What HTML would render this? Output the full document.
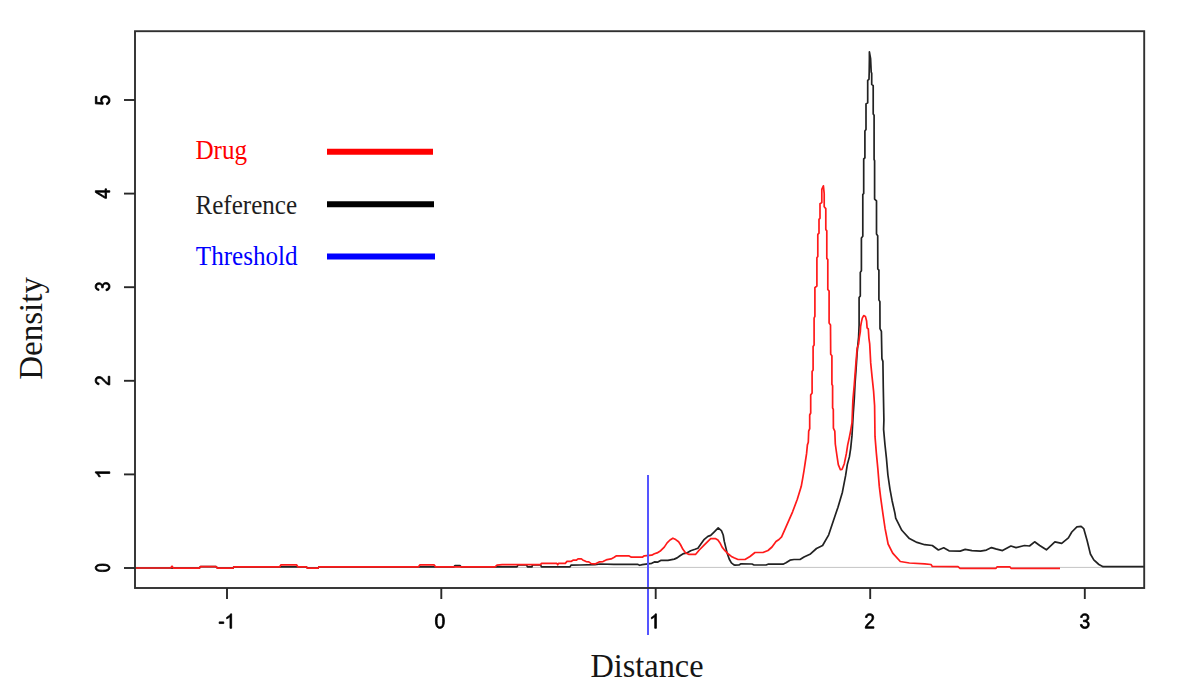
<!DOCTYPE html>
<html><head><meta charset="utf-8"><style>
html,body{margin:0;padding:0;background:#fff;}
svg{display:block;}
</style></head><body>
<svg width="1182" height="700" viewBox="0 0 1182 700">
<rect width="1182" height="700" fill="#fff"/>
<defs><clipPath id="c"><rect x="135" y="31" width="1009" height="557"/></clipPath></defs>
<line x1="135" y1="567.4" x2="1144" y2="567.4" stroke="#c4c4c4" stroke-width="1"/>
<g clip-path="url(#c)" fill="none" stroke-linejoin="round" stroke-width="1.7">
<path d="M135 568 L170.5 568 L173.5 568.2 L199.3 568.2 L200.5 566.6 L216 566.6 L217.5 568.2 L233 568.2 L233.8 566.9 L306.5 566.9 L307.5 568.2 L318 568.2 L319 566.8 L454 566.8 L455 565.6 L460 565.6 L461 566.8 L517 566.8 L518 564.8 L526.5 564.8 L527.5 566.9 L531.9 566.9 L532.5 564.8 L540.5 564.8 L541.5 566.9 L570 566.9 L571 565.1 L580 565 L594.9 564.6 L600.3 564 L613.8 564.3 L637.5 564.3 L639.6 565.3 L642.3 564.6 L651.7 563.3 L654.4 561.9 L657.9 562.1 L660.7 560.4 L667.9 560.4 L674.3 559.1 L677.1 557.9 L680 555.7 L683.6 553.6 L686.4 553.2 L690.7 550.7 L695 549.3 L697.9 548.2 L700.7 544.3 L704.3 539.3 L707.9 536.4 L710.7 535.4 L714.3 531.8 L718.2 527.9 L721.4 530.7 L723.2 535 L724.3 541.4 L725.7 547.1 L727.1 552.9 L729.3 559.3 L731.4 562.9 L733.6 564.6 L735 565.2 L739 565 L741 563.8 L752 564 L754 565 L766 565 L768 564.2 L783 564.2 L786 562.8 L790 560.2 L794 559.5 L800 559.5 L804 557 L810.5 553.9 L816.5 548.5 L822.6 545.5 L828.7 534.8 L833.3 521.1 L837.9 507.4 L842.4 492.2 L845.6 475.7 L847.3 464.6 L849.4 456.9 L850.7 448.3 L852 435.4 L853.3 412.9 L854.3 398.6 L855 384.3 L856.1 368.6 L857.1 352.9 L858.6 337.1 L859.1 325 L859.1 297.6 L860.3 296 L860.3 272.4 L861.4 270.7 L861.4 238 L862.8 236.3 L862.8 194.6 L863.7 193.4 L863.7 159 L864.9 157.9 L864.9 131 L866 129.5 L866 103.9 L867.7 102.7 L867.7 80.4 L869 79.3 L869.2 72 L869.4 58.7 L869.4 51.9 L870.6 58.7 L871.2 72 L871.7 73.4 L871.7 84.4 L873.2 85.6 L873.2 114.1 L874.1 115.3 L874.1 159.6 L874.6 160.7 L874.6 199.1 L876.5 200.9 L876.5 234 L877.7 235.7 L877.8 269 L878.9 270.1 L878.9 299.9 L879.9 301.6 L880 328.6 L881.4 331.4 L881.9 358.6 L882.9 361.4 L883.3 388.6 L883.9 420 L883.6 429.3 L885 445 L886.4 457.9 L887.9 475 L890 489.3 L892.1 500.7 L895 513.6 L895.7 518.1 L901.8 530.3 L909.4 538.6 L917 542.4 L924.7 544.7 L932.3 545.5 L938.4 550 L943.7 547.8 L949 550.8 L960.2 551.1 L965.2 549.4 L972 550.6 L980.5 551.1 L986.4 550.1 L991.5 547.6 L995.7 548.9 L1002.5 550.6 L1010.9 546 L1016 547.6 L1024.5 545.5 L1029.5 546 L1034.6 541.8 L1039.7 545.5 L1046.4 549.8 L1054.9 541.8 L1061.7 543.3 L1068.4 537.9 L1071.8 532 L1076.9 526.9 L1081.1 526.4 L1083.7 528.6 L1087.1 540.5 L1090.4 554 L1093.8 559.9 L1098.9 564.5 L1103.1 566.7 L1145 566.7" stroke="#222"/>
<path d="M135 568 L170.5 568 L172 566.2 L173.5 568.2 L199.3 568.2 L200.5 566.6 L216 566.6 L217.5 568.2 L233 568.2 L233.8 566.9 L279.5 566.9 L281 564.8 L296.5 564.8 L298 566.9 L306.5 566.9 L307.5 568.2 L318 568.2 L319 566.8 L418.5 566.8 L420 564.8 L434 564.8 L435.5 566.8 L495 566.8 L497 565.2 L502.3 564.6 L540.5 564.6 L541.5 563.4 L556.8 563.4 L557.7 564.8 L558.5 563.4 L565.3 563.4 L567 561.4 L571 561.4 L573 560.2 L576.3 560.2 L578 558.9 L581.4 558.9 L582.7 559.9 L586.1 561.6 L588.8 561.9 L591.2 563.6 L595.6 563.8 L599.6 561.8 L603 561.6 L607.1 559.6 L611.1 558.9 L613.8 557.5 L616.5 555.8 L628.7 555.8 L631.4 557.2 L642.3 557.2 L644.3 555.8 L651.7 555.2 L654.4 553.8 L657.1 552.9 L660.7 550.7 L664.3 547.1 L667.1 542.9 L670 540 L672.9 538.2 L675.7 539.6 L678.6 541.8 L680.7 545 L682.9 549.3 L685.7 552.9 L688.6 554.3 L695.7 554.3 L699.3 550 L703.6 545.7 L707.9 541.4 L710.7 538.7 L715.7 538.7 L717.9 540 L720 542.9 L722.1 547.1 L725 550.7 L728.6 554.3 L731.4 556.4 L734 557.8 L738 559.5 L745 559.5 L750 556.5 L755 552.5 L763 552.5 L768 550.5 L772 547 L776 541.5 L779 539.5 L781.6 536.9 L787.1 524.3 L792.6 511.8 L797.3 499.2 L801.2 486.6 L802.7 478.3 L804 470.6 L805.3 462 L806.6 453.4 L807.4 444.9 L808.3 442.3 L808.7 431.1 L809.7 428.6 L809.7 415 L810.7 413 L810.7 395 L812.1 393 L812.1 371.4 L813.1 370 L813.1 346.4 L814.1 345 L814.1 318 L814.9 316.3 L814.9 287.7 L816.9 286 L816.9 257.8 L817.8 256.6 L817.8 234.4 L819 233.2 L819 219.4 L820 218.2 L820 203.8 L821.8 202.6 L821.8 189.4 L823.4 185.8 L824.2 193.6 L824.2 206.8 L825.8 208.6 L825.8 229.6 L826.8 230.8 L826.8 258.4 L827.8 259.6 L827.8 289.4 L829.1 291.1 L829.1 323.1 L830.5 324.9 L830.7 354.3 L831.9 355.7 L831.9 384.3 L832.6 385.7 L832.6 407.9 L833.3 409.3 L833.4 428.1 L834.8 431.1 L835.3 444 L837 456 L838.3 464.6 L840.4 469.7 L842.1 469.3 L844.3 463.7 L846.4 453.4 L847.7 444.9 L849.4 437.1 L850.7 430.3 L852 422.6 L852.9 400 L854.3 384.3 L855.7 365.7 L857.1 348.6 L858.6 343.9 L859.4 337 L860.3 331.9 L860.6 326.7 L861.4 322.1 L862.3 318.1 L863.7 315.6 L865.4 316.4 L866.6 321 L867.1 327.9 L868.3 329 L868.9 338.1 L869.7 343.9 L870.7 362.9 L872.1 377.1 L873.6 391.4 L874.6 405.7 L875 436.4 L876.4 453.6 L877.9 469.3 L879.3 486.4 L880.7 497.9 L882.9 513.6 L885.1 528.7 L888.1 544 L892.7 553.1 L900.3 561.5 L909.4 563 L924.7 563.8 L931 564.5 L932.3 566.5 L958 566.7 L960 568.4 L996 568.4 L997 566.9 L1010 566.9 L1011 568.4 L1060 568.4" stroke="#ff1a1a"/>
</g>
<line x1="648" y1="475" x2="648" y2="635" stroke="#5555ff" stroke-width="2"/>
<rect x="135" y="31.2" width="1009.2" height="556.8" fill="none" stroke="#303030" stroke-width="1.9"/>
<g stroke="#282828" stroke-width="1.9"><line x1="227" y1="588" x2="227" y2="599" /><line x1="441.3" y1="588" x2="441.3" y2="599" /><line x1="655.7" y1="588" x2="655.7" y2="599" /><line x1="870.2" y1="588" x2="870.2" y2="599" /><line x1="1084.8" y1="588" x2="1084.8" y2="599" /><line x1="124" y1="568" x2="135" y2="568" /><line x1="124" y1="474.4" x2="135" y2="474.4" /><line x1="124" y1="380.8" x2="135" y2="380.8" /><line x1="124" y1="287.2" x2="135" y2="287.2" /><line x1="124" y1="193.6" x2="135" y2="193.6" /><line x1="124" y1="100" x2="135" y2="100" /></g>
<g fill="#000" stroke="#000" stroke-width="0.8"><g transform="translate(225.4 628.3) scale(0.009229 -0.010254) translate(-768.0 0)"><path transform="translate(0 0)" d="M91 464V624H591V464Z" vector-effect="non-scaling-stroke"/><path transform="translate(682 0)" d="M763 0V1409H647Q600 1320 487 1230Q374 1140 223 1075V920Q307 950 412 1010Q518 1070 583 1130V0Z" vector-effect="non-scaling-stroke"/></g><g transform="translate(439.9 628.3) scale(0.009229 -0.010254) translate(-569.5 0)"><path transform="translate(0 0)" d="M1059 705Q1059 352 934.5 166.0Q810 -20 567 -20Q324 -20 202.0 165.0Q80 350 80 705Q80 1068 198.5 1249.0Q317 1430 573 1430Q822 1430 940.5 1247.0Q1059 1064 1059 705ZM876 705Q876 1010 805.5 1147.0Q735 1284 573 1284Q407 1284 334.5 1149.0Q262 1014 262 705Q262 405 335.5 266.0Q409 127 569 127Q728 127 802.0 269.0Q876 411 876 705Z" vector-effect="non-scaling-stroke"/></g><g transform="translate(653.9 628.3) scale(0.009229 -0.010254) translate(-493.0 0)"><path transform="translate(0 0)" d="M763 0V1409H647Q600 1320 487 1230Q374 1140 223 1075V920Q307 950 412 1010Q518 1070 583 1130V0Z" vector-effect="non-scaling-stroke"/></g><g transform="translate(869.6 628.3) scale(0.009229 -0.010254) translate(-569.5 0)"><path transform="translate(0 0)" d="M103 0V127Q154 244 227.5 333.5Q301 423 382.0 495.5Q463 568 542.5 630.0Q622 692 686.0 754.0Q750 816 789.5 884.0Q829 952 829 1038Q829 1154 761.0 1218.0Q693 1282 572 1282Q457 1282 382.5 1219.5Q308 1157 295 1044L111 1061Q131 1230 254.5 1330.0Q378 1430 572 1430Q785 1430 899.5 1329.5Q1014 1229 1014 1044Q1014 962 976.5 881.0Q939 800 865.0 719.0Q791 638 582 468Q467 374 399.0 298.5Q331 223 301 153H1036V0Z" vector-effect="non-scaling-stroke"/></g><g transform="translate(1084.8 628.3) scale(0.009229 -0.010254) translate(-563.5 0)"><path transform="translate(0 0)" d="M1049 389Q1049 194 925.0 87.0Q801 -20 571 -20Q357 -20 229.5 76.5Q102 173 78 362L264 379Q300 129 571 129Q707 129 784.5 196.0Q862 263 862 395Q862 510 773.5 574.5Q685 639 518 639H416V795H514Q662 795 743.5 859.5Q825 924 825 1038Q825 1151 758.5 1216.5Q692 1282 561 1282Q442 1282 368.5 1221.0Q295 1160 283 1049L102 1063Q122 1236 245.5 1333.0Q369 1430 563 1430Q775 1430 892.5 1331.5Q1010 1233 1010 1057Q1010 922 934.5 837.5Q859 753 715 723V719Q873 702 961.0 613.0Q1049 524 1049 389Z" vector-effect="non-scaling-stroke"/></g><g transform="translate(109.8 567.8) rotate(-90) scale(0.007793 -0.010254) translate(-569.5 0)"><path transform="translate(0 0)" d="M1059 705Q1059 352 934.5 166.0Q810 -20 567 -20Q324 -20 202.0 165.0Q80 350 80 705Q80 1068 198.5 1249.0Q317 1430 573 1430Q822 1430 940.5 1247.0Q1059 1064 1059 705ZM876 705Q876 1010 805.5 1147.0Q735 1284 573 1284Q407 1284 334.5 1149.0Q262 1014 262 705Q262 405 335.5 266.0Q409 127 569 127Q728 127 802.0 269.0Q876 411 876 705Z" vector-effect="non-scaling-stroke"/></g><g transform="translate(109.8 474.3) rotate(-90) scale(0.009229 -0.010254) translate(-493.0 0)"><path transform="translate(0 0)" d="M763 0V1409H647Q600 1320 487 1230Q374 1140 223 1075V920Q307 950 412 1010Q518 1070 583 1130V0Z" vector-effect="non-scaling-stroke"/></g><g transform="translate(109.8 380.6) rotate(-90) scale(0.009229 -0.010254) translate(-569.5 0)"><path transform="translate(0 0)" d="M103 0V127Q154 244 227.5 333.5Q301 423 382.0 495.5Q463 568 542.5 630.0Q622 692 686.0 754.0Q750 816 789.5 884.0Q829 952 829 1038Q829 1154 761.0 1218.0Q693 1282 572 1282Q457 1282 382.5 1219.5Q308 1157 295 1044L111 1061Q131 1230 254.5 1330.0Q378 1430 572 1430Q785 1430 899.5 1329.5Q1014 1229 1014 1044Q1014 962 976.5 881.0Q939 800 865.0 719.0Q791 638 582 468Q467 374 399.0 298.5Q331 223 301 153H1036V0Z" vector-effect="non-scaling-stroke"/></g><g transform="translate(109.8 286.6) rotate(-90) scale(0.008613 -0.010254) translate(-563.5 0)"><path transform="translate(0 0)" d="M1049 389Q1049 194 925.0 87.0Q801 -20 571 -20Q357 -20 229.5 76.5Q102 173 78 362L264 379Q300 129 571 129Q707 129 784.5 196.0Q862 263 862 395Q862 510 773.5 574.5Q685 639 518 639H416V795H514Q662 795 743.5 859.5Q825 924 825 1038Q825 1151 758.5 1216.5Q692 1282 561 1282Q442 1282 368.5 1221.0Q295 1160 283 1049L102 1063Q122 1236 245.5 1333.0Q369 1430 563 1430Q775 1430 892.5 1331.5Q1010 1233 1010 1057Q1010 922 934.5 837.5Q859 753 715 723V719Q873 702 961.0 613.0Q1049 524 1049 389Z" vector-effect="non-scaling-stroke"/></g><g transform="translate(109.8 193.6) rotate(-90) scale(0.009229 -0.010254) translate(-563.0 0)"><path transform="translate(0 0)" d="M881 319V0H711V319H47V459L692 1409H881V461H1079V319ZM711 1206Q709 1200 683.0 1153.0Q657 1106 644 1087L283 555L229 481L213 461H711Z" vector-effect="non-scaling-stroke"/></g><g transform="translate(109.8 100.2) rotate(-90) scale(0.009229 -0.010254) translate(-567.5 0)"><path transform="translate(0 0)" d="M1053 459Q1053 236 920.5 108.0Q788 -20 553 -20Q356 -20 235.0 66.0Q114 152 82 315L264 336Q321 127 557 127Q702 127 784.0 214.5Q866 302 866 455Q866 588 783.5 670.0Q701 752 561 752Q488 752 425.0 729.0Q362 706 299 651H123L170 1409H971V1256H334L307 809Q424 899 598 899Q806 899 929.5 777.0Q1053 655 1053 459Z" vector-effect="non-scaling-stroke"/></g></g>
<g font-family="'Liberation Serif', serif" font-size="25.5">
<text transform="translate(195.4 159) scale(0.985 1.03)" fill="#f00">Drug</text>
<text transform="translate(195.4 213.5) scale(0.985 1.03)" fill="#1e1e1e">Reference</text>
<text transform="translate(195.8 265.1) scale(0.985 1.03)" fill="#00f">Threshold</text>
</g>
<g stroke-width="6">
<line x1="327" y1="151.8" x2="433" y2="151.8" stroke="#f00"/>
<line x1="327" y1="204.2" x2="434" y2="204.2" stroke="#000"/>
<line x1="327" y1="256.5" x2="435" y2="256.5" stroke="#00f"/>
</g>
<g font-family="'Liberation Serif', serif" font-size="33" fill="#151515">
<text transform="translate(647 677.2) scale(0.98 1.01)" text-anchor="middle">Distance</text>
<text transform="translate(42.3 328.4) rotate(-90)" text-anchor="middle">Density</text>
</g>
</svg>
</body></html>
